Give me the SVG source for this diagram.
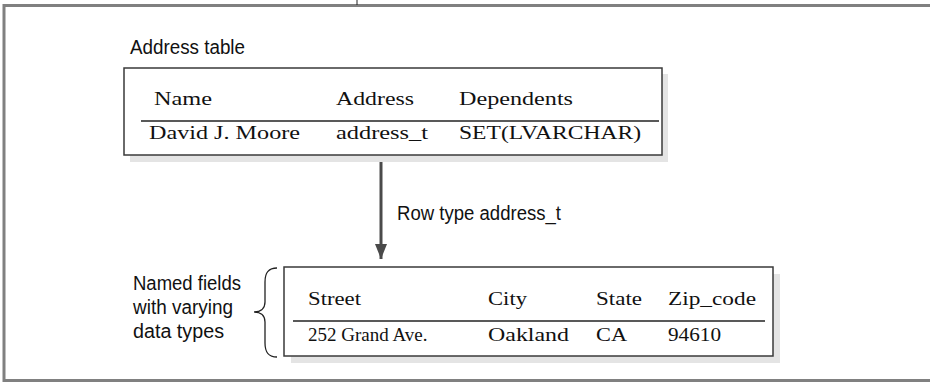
<svg xmlns="http://www.w3.org/2000/svg" width="930" height="384" viewBox="0 0 930 384">
<defs>
<style>
.frame{fill:none;stroke:#808080;stroke-width:3}
.shadow{fill:#e4e4e4}
.box{fill:#fff;stroke:#3a3a3a;stroke-width:1.5}
.rule{stroke:#222;stroke-width:1.3}
.serif{font-family:"Liberation Serif","DejaVu Serif",serif;font-size:19px;fill:#111}
.sans{font-family:"Liberation Sans Narrow","Liberation Sans",sans-serif;font-size:20px;fill:#111}
.conn{stroke:#4a4a4a;stroke-width:3;fill:none}
.brace{fill:none;stroke:#222;stroke-width:1.3}
</style>
<marker id="ah" viewBox="0 0 15 12" refX="15" refY="6" markerWidth="15" markerHeight="12" markerUnits="userSpaceOnUse" orient="auto">
<path d="M0,0 L15,6 L0,12 Z" fill="#4a4a4a"/>
</marker>
</defs>
<rect class="frame" x="4" y="5.5" width="940" height="375"/>
<line x1="357" y1="0" x2="357" y2="5" stroke="#222" stroke-width="1"/>
<text class="sans" x="130" y="54" textLength="115" lengthAdjust="spacingAndGlyphs">Address table</text>
<g id="address-table">
<rect class="shadow" x="130" y="74" width="538" height="88"/>
<rect class="box" x="124" y="68" width="538" height="87"/>
<text class="serif" x="154" y="105" textLength="58" lengthAdjust="spacingAndGlyphs">Name</text>
<text class="serif" x="336" y="105" textLength="78" lengthAdjust="spacingAndGlyphs">Address</text>
<text class="serif" x="459" y="105" textLength="114" lengthAdjust="spacingAndGlyphs">Dependents</text>
<line class="rule" x1="141" y1="121" x2="659" y2="121"/>
<text class="serif" x="149" y="139" textLength="151" lengthAdjust="spacingAndGlyphs">David J. Moore</text>
<text class="serif" x="336" y="139" textLength="92" lengthAdjust="spacingAndGlyphs">address_t</text>
<text class="serif" x="459" y="139" textLength="182" lengthAdjust="spacingAndGlyphs">SET(LVARCHAR)</text>
</g>
<g id="connectors">
<line class="conn" x1="381" y1="162" x2="381" y2="259" marker-end="url(#ah)"/>
<text class="sans" x="397" y="220" textLength="164" lengthAdjust="spacingAndGlyphs">Row type address_t</text>
</g>
<g id="row-type">
<rect class="shadow" x="291" y="274" width="489" height="89"/>
<rect class="box" x="284" y="267" width="489" height="89"/>
<text class="serif" x="308" y="305" textLength="53" lengthAdjust="spacingAndGlyphs">Street</text>
<text class="serif" x="488" y="305" textLength="39" lengthAdjust="spacingAndGlyphs">City</text>
<text class="serif" x="596" y="305" textLength="46" lengthAdjust="spacingAndGlyphs">State</text>
<text class="serif" x="668" y="305" textLength="88" lengthAdjust="spacingAndGlyphs">Zip_code</text>
<line class="rule" x1="293" y1="321" x2="765" y2="321"/>
<text class="serif" x="308" y="341">252 Grand Ave.</text>
<text class="serif" x="488" y="341" textLength="81" lengthAdjust="spacingAndGlyphs">Oakland</text>
<text class="serif" x="596" y="341" textLength="31" lengthAdjust="spacingAndGlyphs">CA</text>
<text class="serif" x="668" y="341" textLength="53" lengthAdjust="spacingAndGlyphs">94610</text>
</g>
<g id="named-fields">
<path class="brace" d="M277,268 C268,268 265,273 265,282 L265,302 C265,309 260,312 254,312 C260,312 265,315 265,322 L265,343 C265,352 268,357 277,357"/>
<text class="sans" x="133" y="290" textLength="108" lengthAdjust="spacingAndGlyphs">Named fields</text>
<text class="sans" x="133" y="314" textLength="100" lengthAdjust="spacingAndGlyphs">with varying</text>
<text class="sans" x="133" y="338" textLength="91" lengthAdjust="spacingAndGlyphs">data types</text>
</g>
</svg>
